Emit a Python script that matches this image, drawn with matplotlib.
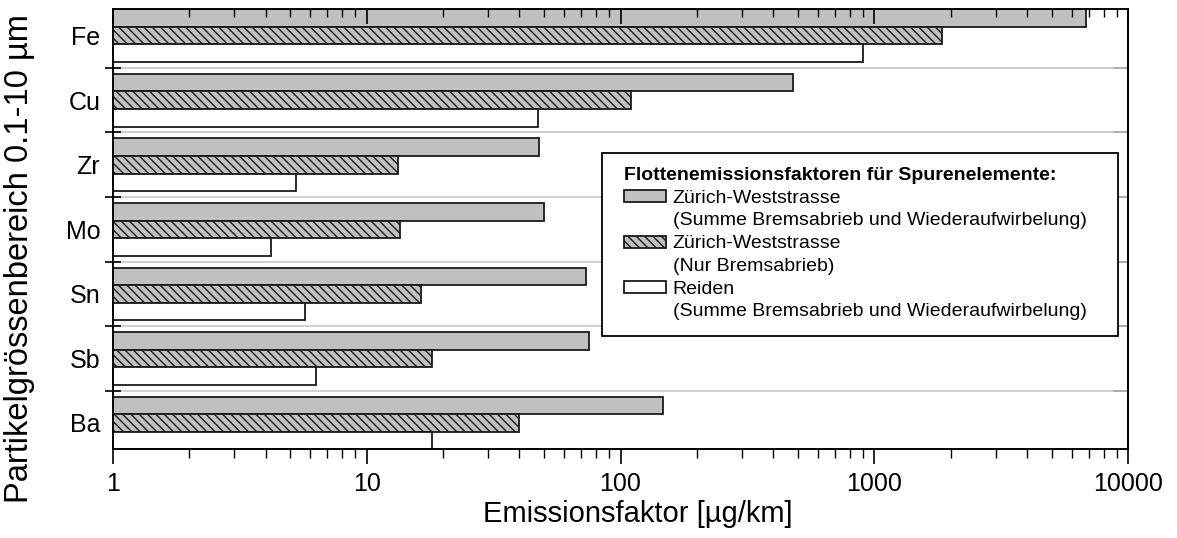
import numpy as np
import matplotlib.pyplot as plt
import matplotlib.ticker as mticker
from matplotlib.patches import Rectangle

plt.rcParams['font.family'] = ['Liberation Sans', 'DejaVu Sans']
plt.rcParams['hatch.linewidth'] = 1.0

# Flottenemissionsfaktoren in µg/km
elemente = ['Fe', 'Cu', 'Zr', 'Mo', 'Sn', 'Sb', 'Ba']
zh_summe = [6800, 480, 47.8, 49.9, 73.4, 75.2, 147]
zh_brems = [1850, 110, 13.3, 13.5, 16.3, 18.1, 39.8]
reiden_summe = [900, 47.5, 5.25, 4.2, 5.7, 6.3, 18.1]

standorte = ['Zürich-Weststrasse', 'Zürich-Weststrasse', 'Reiden']
zusatz = ['(Summe Bremsabrieb und Wiederaufwirbelung)',
          '(Nur Bremsabrieb)',
          '(Summe Bremsabrieb und Wiederaufwirbelung)']
titel = 'Flottenemissionsfaktoren für Spurenelemente:'

GRAU = '#c0c0c0'
RAND = '#1a1a1a'
SCHRAFFUR = '\\\\\\\\'
stile = [dict(facecolor=GRAU), dict(facecolor=GRAU, hatch=SCHRAFFUR),
         dict(facecolor='white')]

W, H = 1177, 538
fig = plt.figure(figsize=(W / 100, H / 100), dpi=100)
ax = fig.add_axes([0.0958, 0.1649, 0.8628, 0.8178])

y = np.arange(len(elemente))
h = 0.272
for k, werte in enumerate([zh_summe, zh_brems, reiden_summe]):
    ax.barh(y + (k - 1) * h, np.array(werte) - 1, left=1, height=h,
            edgecolor=RAND, lw=1.3, **stile[k])

ax.set_xscale('log')
ax.set_xlim(1, 10000)
ax.set_ylim(len(elemente) - 1 + 1.5 * h, -1.5 * h)

# x-Achse unten
ax.xaxis.set_major_locator(mticker.LogLocator(base=10))
ax.xaxis.set_minor_locator(mticker.LogLocator(base=10, subs=np.arange(2, 10)))
ax.xaxis.set_major_formatter(mticker.FuncFormatter(lambda v, p: f'{v:g}'))
ax.xaxis.set_minor_formatter(mticker.NullFormatter())
ax.tick_params(axis='x', which='major', direction='out', length=11, width=1.2,
               labelsize=18, pad=5)
ax.tick_params(axis='x', which='minor', direction='out', length=6.5, width=1.0)

# y-Achse links
ax.set_yticks(y)
ax.set_yticklabels(elemente)
ax.set_yticks(np.arange(len(elemente) - 1) + 0.5, minor=True)
ax.tick_params(axis='y', which='major', length=0, labelsize=18, pad=9)
ax.tick_params(axis='y', which='minor', direction='inout', length=11, width=1.2)
ax.grid(which='minor', axis='y', color='#c8c8c8', lw=1.2)
ax.set_axisbelow(True)

# Striche oben nach innen
top = ax.twiny()
top.set_xscale('log')
top.set_xlim(1, 10000)
top.xaxis.set_major_locator(mticker.LogLocator(base=10))
top.xaxis.set_minor_locator(mticker.LogLocator(base=10, subs=np.arange(2, 10)))
top.xaxis.set_major_formatter(mticker.NullFormatter())
top.xaxis.set_minor_formatter(mticker.NullFormatter())
top.tick_params(which='major', direction='in', length=11, width=1.2)
top.tick_params(which='minor', direction='in', length=6, width=1.0)

# Striche rechts nach innen
right = ax.secondary_yaxis('right')
right.set_yticks([])
right.set_yticks(np.arange(len(elemente) - 1) + 0.5, minor=True)
right.yaxis.set_minor_formatter(mticker.NullFormatter())
right.tick_params(which='minor', direction='in', length=11, width=1.2)

for a in (ax, top, right):
    for s in a.spines.values():
        s.set_linewidth(1.2)

ax.set_xlabel('Emissionsfaktor [µg/km]', fontsize=21)
ax.set_ylabel('Partikelgrössenbereich 0.1-10 µm', fontsize=23.5)
ax.xaxis.set_label_coords(0.517, -0.115)
ax.yaxis.set_label_coords(-0.0765, 0.4325)

# Legende als eigener Kasten (Koordinaten in Pixeln)
lx, ly, lw_, lh = 602, 153, 516, 183
lax = fig.add_axes([lx / W, 1 - (ly + lh) / H, lw_ / W, lh / H])
lax.set_xlim(0, lw_)
lax.set_ylim(lh, 0)
lax.axis('off')
lax.add_patch(Rectangle((0, 0), lw_, lh, facecolor='white', edgecolor='black',
                        lw=1.3, clip_on=False))
zeile = 22.7
y0 = 22.5
lax.text(22.4, y0, titel, fontsize=14, fontweight='bold', va='center')
for k in range(3):
    y1 = y0 + zeile * (2 * k + 1)
    y2 = y1 + zeile
    lax.add_patch(Rectangle((22.4, y1 - 8), 42, 12, edgecolor=RAND, lw=1.3,
                            clip_on=False, **stile[k]))
    lax.text(70.6, y1, standorte[k], fontsize=14, va='center')
    lax.text(70.6, y2, zusatz[k], fontsize=14, va='center')

fig.savefig('out.png', dpi=100)
